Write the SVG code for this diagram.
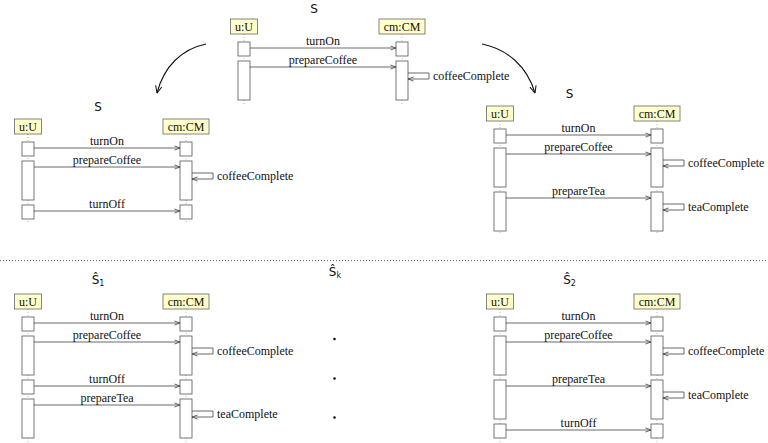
<svg xmlns="http://www.w3.org/2000/svg" width="768" height="443" viewBox="0 0 768 443">
<style>
.title{font-family:"DejaVu Sans","Liberation Sans",sans-serif;font-size:12px;fill:#111;text-anchor:middle}
.sub{font-size:8px}
.lbl{font-family:"Liberation Serif","Times New Roman","DejaVu Serif",serif;font-size:12px;fill:#111}
.mid{text-anchor:middle}
.hdr{fill:#ffffcc;stroke:#666;stroke-width:0.8}
.act{fill:#fff;stroke:#555;stroke-width:0.8}
.life{stroke:#999;stroke-width:0.7;stroke-dasharray:1 2;fill:none}
.msg{stroke:#444;stroke-width:0.8;fill:none;marker-end:url(#mh)}
.curve{stroke:#111;stroke-width:1.1;fill:none;marker-end:url(#ch)}
</style>
<defs>
<marker id="mh" viewBox="0 0 6 6" refX="6" refY="3" markerWidth="6" markerHeight="6" markerUnits="userSpaceOnUse" orient="auto">
<path d="M0.5,1 L6,3 L0.5,5" fill="none" stroke="#444" stroke-width="0.8"/>
</marker>
<marker id="ch" viewBox="0 0 8 8" refX="7.5" refY="4" markerWidth="8" markerHeight="8" markerUnits="userSpaceOnUse" orient="auto">
<path d="M0.5,0.8 L7.5,4 L0.5,7.2" fill="none" stroke="#111" stroke-width="1"/>
</marker>
</defs>
<rect width="768" height="443" fill="#fff"/>

<!-- Top diagram -->
<g id="diagram-top">
<text class="title" x="314" y="13">S</text>
<line class="life" x1="244" y1="34" x2="244" y2="104"/>
<line class="life" x1="402" y1="34" x2="402" y2="104"/>
<g id="top-u"><rect class="hdr" x="230.5" y="19" width="27" height="15"/><text class="lbl mid" x="244" y="30.5">u:U</text></g>
<g id="top-cm"><rect class="hdr" x="379" y="19" width="46" height="15"/><text class="lbl mid" x="402" y="30.5">cm:CM</text></g>
<rect class="act" x="238" y="42" width="12" height="14"/>
<rect class="act" x="238" y="61" width="12" height="39"/>
<rect class="act" x="396" y="42" width="12" height="14"/>
<rect class="act" x="396" y="61" width="12" height="39"/>
<g id="top-msgs">
<line class="msg" x1="250" y1="48" x2="396" y2="48"/><text class="lbl mid" x="323" y="45">turnOn</text>
<line class="msg" x1="250" y1="67" x2="396" y2="67"/><text class="lbl mid" x="323" y="64">prepareCoffee</text>
<path class="msg" d="M408,73 H429 V79 H408"/><text class="lbl" x="433" y="80">coffeeComplete</text>
</g>
</g>

<!-- Left middle diagram -->
<g id="diagram-left">
<text class="title" x="98" y="111">S</text>
<line class="life" x1="28" y1="134" x2="28" y2="223"/>
<line class="life" x1="186" y1="134" x2="186" y2="223"/>
<g id="left-u"><rect class="hdr" x="14.5" y="119" width="27" height="15"/><text class="lbl mid" x="28" y="130.5">u:U</text></g>
<g id="left-cm"><rect class="hdr" x="163" y="119" width="46" height="15"/><text class="lbl mid" x="186" y="130.5">cm:CM</text></g>
<rect class="act" x="22" y="142" width="12" height="14"/>
<rect class="act" x="22" y="161" width="12" height="39"/>
<rect class="act" x="22" y="205" width="12" height="14"/>
<rect class="act" x="180" y="142" width="12" height="14"/>
<rect class="act" x="180" y="161" width="12" height="39"/>
<rect class="act" x="180" y="205" width="12" height="14"/>
<g id="left-msgs">
<line class="msg" x1="34" y1="148" x2="180" y2="148"/><text class="lbl mid" x="107" y="145">turnOn</text>
<line class="msg" x1="34" y1="167" x2="180" y2="167"/><text class="lbl mid" x="107" y="164">prepareCoffee</text>
<path class="msg" d="M192,173 H213 V179 H192"/><text class="lbl" x="217" y="180">coffeeComplete</text>
<line class="msg" x1="34" y1="211" x2="180" y2="211"/><text class="lbl mid" x="107" y="208">turnOff</text>
</g>
</g>

<!-- Right middle diagram -->
<g id="diagram-right">
<text class="title" x="569.5" y="98">S</text>
<line class="life" x1="500" y1="121" x2="500" y2="235"/>
<line class="life" x1="657" y1="121" x2="657" y2="235"/>
<g id="right-u"><rect class="hdr" x="486.5" y="106" width="27" height="15"/><text class="lbl mid" x="500" y="117.5">u:U</text></g>
<g id="right-cm"><rect class="hdr" x="634" y="106" width="46" height="15"/><text class="lbl mid" x="657" y="117.5">cm:CM</text></g>
<rect class="act" x="494" y="129" width="12" height="14"/>
<rect class="act" x="494" y="148" width="12" height="39"/>
<rect class="act" x="494" y="192" width="12" height="39"/>
<rect class="act" x="651" y="129" width="12" height="14"/>
<rect class="act" x="651" y="148" width="12" height="39"/>
<rect class="act" x="651" y="192" width="12" height="39"/>
<g id="right-msgs">
<line class="msg" x1="506" y1="135" x2="651" y2="135"/><text class="lbl mid" x="578.5" y="132">turnOn</text>
<line class="msg" x1="506" y1="154" x2="651" y2="154"/><text class="lbl mid" x="578.5" y="151">prepareCoffee</text>
<path class="msg" d="M663,160 H684 V166 H663"/><text class="lbl" x="688" y="167">coffeeComplete</text>
<line class="msg" x1="506" y1="198" x2="651" y2="198"/><text class="lbl mid" x="578.5" y="195">prepareTea</text>
<path class="msg" d="M663,204 H684 V210 H663"/><text class="lbl" x="688" y="211">teaComplete</text>
</g>
</g>

<!-- separator -->
<line x1="0" y1="260.5" x2="768" y2="260.5" stroke="#666" stroke-width="1" stroke-dasharray="1 2"/>

<!-- Bottom left diagram -->
<g id="diagram-s1">
<text class="title" x="98" y="284">Ŝ<tspan class="sub" dy="2">1</tspan></text>
<line class="life" x1="28" y1="309" x2="28" y2="442"/>
<line class="life" x1="186" y1="309" x2="186" y2="442"/>
<g id="s1-u"><rect class="hdr" x="14.5" y="294" width="27" height="15"/><text class="lbl mid" x="28" y="305.5">u:U</text></g>
<g id="s1-cm"><rect class="hdr" x="163" y="294" width="46" height="15"/><text class="lbl mid" x="186" y="305.5">cm:CM</text></g>
<rect class="act" x="22" y="317" width="12" height="14"/>
<rect class="act" x="22" y="336" width="12" height="39"/>
<rect class="act" x="22" y="380" width="12" height="14"/>
<rect class="act" x="22" y="399" width="12" height="39"/>
<rect class="act" x="180" y="317" width="12" height="14"/>
<rect class="act" x="180" y="336" width="12" height="39"/>
<rect class="act" x="180" y="380" width="12" height="14"/>
<rect class="act" x="180" y="399" width="12" height="39"/>
<g id="s1-msgs">
<line class="msg" x1="34" y1="323" x2="180" y2="323"/><text class="lbl mid" x="107" y="320">turnOn</text>
<line class="msg" x1="34" y1="342" x2="180" y2="342"/><text class="lbl mid" x="107" y="339">prepareCoffee</text>
<path class="msg" d="M192,348 H213 V354 H192"/><text class="lbl" x="217" y="355">coffeeComplete</text>
<line class="msg" x1="34" y1="386" x2="180" y2="386"/><text class="lbl mid" x="107" y="383">turnOff</text>
<line class="msg" x1="34" y1="405" x2="180" y2="405"/><text class="lbl mid" x="107" y="402">prepareTea</text>
<path class="msg" d="M192,411 H213 V417 H192"/><text class="lbl" x="217" y="418">teaComplete</text>
</g>
</g>

<!-- Middle: S_k with ellipsis dots -->
<g id="diagram-sk">
<text class="title" x="335" y="276">Ŝ<tspan class="sub" dy="2">k</tspan></text>
<circle cx="334.5" cy="339" r="1.3" fill="#111"/>
<circle cx="334.5" cy="378.5" r="1.3" fill="#111"/>
<circle cx="334.5" cy="417.5" r="1.3" fill="#111"/>
</g>

<!-- Bottom right diagram -->
<g id="diagram-s2">
<text class="title" x="569.5" y="284">Ŝ<tspan class="sub" dy="2">2</tspan></text>
<line class="life" x1="500" y1="309" x2="500" y2="442"/>
<line class="life" x1="657" y1="309" x2="657" y2="442"/>
<g id="s2-u"><rect class="hdr" x="486.5" y="294" width="27" height="15"/><text class="lbl mid" x="500" y="305.5">u:U</text></g>
<g id="s2-cm"><rect class="hdr" x="634" y="294" width="46" height="15"/><text class="lbl mid" x="657" y="305.5">cm:CM</text></g>
<rect class="act" x="494" y="317" width="12" height="14"/>
<rect class="act" x="494" y="336" width="12" height="39"/>
<rect class="act" x="494" y="380" width="12" height="39"/>
<rect class="act" x="494" y="424" width="12" height="14"/>
<rect class="act" x="651" y="317" width="12" height="14"/>
<rect class="act" x="651" y="336" width="12" height="39"/>
<rect class="act" x="651" y="380" width="12" height="39"/>
<rect class="act" x="651" y="424" width="12" height="14"/>
<g id="s2-msgs">
<line class="msg" x1="506" y1="323" x2="651" y2="323"/><text class="lbl mid" x="578.5" y="320">turnOn</text>
<line class="msg" x1="506" y1="342" x2="651" y2="342"/><text class="lbl mid" x="578.5" y="339">prepareCoffee</text>
<path class="msg" d="M663,348 H684 V354 H663"/><text class="lbl" x="688" y="355">coffeeComplete</text>
<line class="msg" x1="506" y1="386" x2="651" y2="386"/><text class="lbl mid" x="578.5" y="383">prepareTea</text>
<path class="msg" d="M663,392 H684 V398 H663"/><text class="lbl" x="688" y="399">teaComplete</text>
<line class="msg" x1="506" y1="430" x2="651" y2="430"/><text class="lbl mid" x="578.5" y="427">turnOff</text>
</g>
</g>

<!-- connectors -->
<g id="connectors">
<path class="curve" d="M206,44 C182,49 164,66 157,93"/>
<path class="curve" d="M482,44 C507,49 527,66 535,93"/>
</g>
</svg>
